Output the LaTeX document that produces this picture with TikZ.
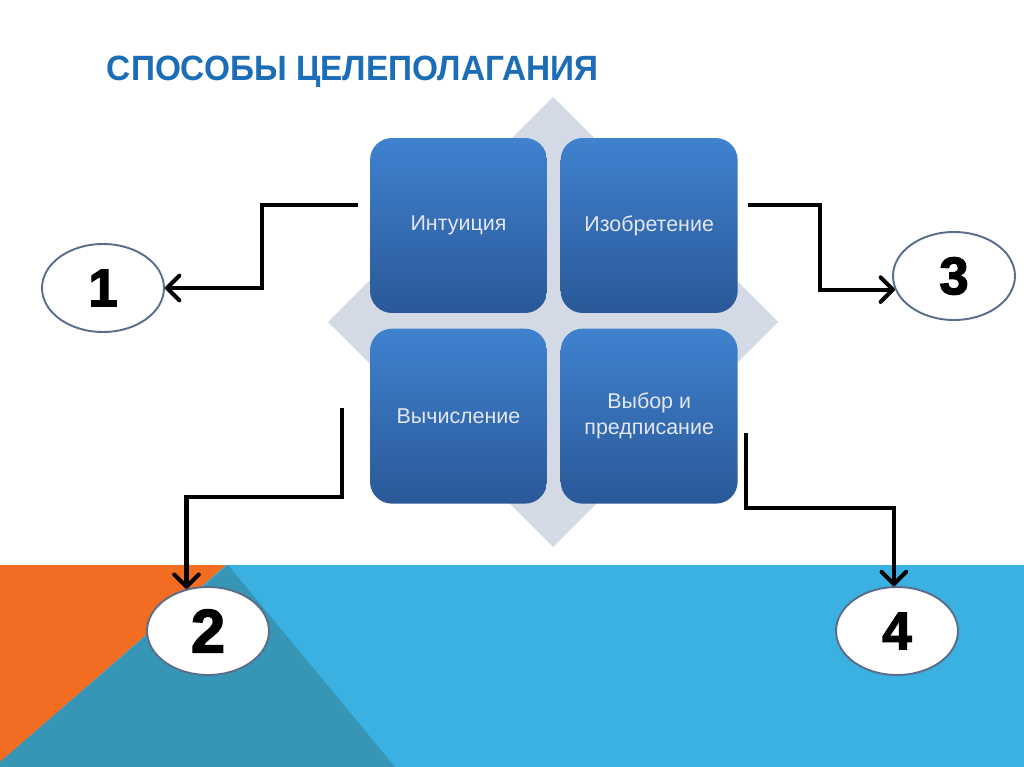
\documentclass[tikz,border=0pt]{standalone}
\usepackage{fontspec}
\setmainfont{Liberation Sans}
\newfontfamily\numfont[BoldFeatures={FakeBold=2.5}]{Liberation Sans}
\usetikzlibrary{positioning,shapes.geometric,arrows.meta}
\definecolor{titleblue}{HTML}{1B6DB5}
\definecolor{boxtop}{HTML}{3F82CE}
\definecolor{boxbot}{HTML}{2A5898}
\definecolor{boxtext}{HTML}{E2E6EE}
\definecolor{diamgray}{HTML}{D3DAE6}
\definecolor{ringgray}{HTML}{5A6E8C}
\definecolor{bandblue}{HTML}{3AB1E0}
\definecolor{bandteal}{HTML}{3795B5}
\definecolor{bandorange}{HTML}{F26D21}
\tikzset{sbox/.style={rounded corners=0.44cm,top color=boxtop,bottom color=boxbot,text=boxtext,
		minimum width=3.54cm,minimum height=3.5cm,inner sep=0pt,align=center,
		font=\fontsize{12.2}{15}\selectfont},
	 num/.style={ellipse,draw=ringgray,line width=1.1pt,fill=white,minimum width=2.44cm,
		minimum height=1.76cm,inner sep=0pt,font=\numfont\bfseries\fontsize{30}{30}\selectfont},
	 conn/.style={line width=2.3pt,-{Straight Barb[length=7pt,width=14pt,round]}},
	 node distance = 0.26cm
	 }

\begin{document}
\begin{tikzpicture}[x=0.02cm,y=-0.02cm] % sposoby celepolaganiya
	\useasboundingbox (0,0) rectangle (1024,767);
	\fill[white] (0,0) rectangle (1024,767);
	\fill[bandblue] (0,565) rectangle (1024,767);
	\fill[bandorange] (0,565) -- (226,565) -- (0,762) -- cycle;
	\fill[bandteal] (228,565) -- (395,767) -- (0,767) -- (0,762) -- cycle;
	\node[anchor=west,text=titleblue,xscale=0.95,font=\bfseries\fontsize{20}{24}\selectfont] (title) at (101,72) {СПОСОБЫ ЦЕЛЕПОЛАГАНИЯ};
	\fill[diamgray] (553,97) -- (778,322) -- (553,547) -- (328,322) -- cycle;
	\node[sbox] (intu) at (458.5,225.5) {Интуиция};
	\node[sbox] (izob) [right=0.26cm of intu] {Изобретение};
	\node[sbox] (vych) [below=0.3cm of intu] {Вычисление};
	\node[sbox] (vybor) [right=0.26cm of vych] {Выбор и\\предписание};
	\node[num] (one) at (103,288) {1};
	\node[num,font=\numfont\bfseries\fontsize{35}{35}\selectfont] (two) at (208,631) {2};
	\node[num] (three) at (954,276) {3};
	\node[num] (four) at (897,631) {4};
	\coordinate (s1) at (358,205);
	\coordinate (s2) at (342,408);
	\coordinate (s3) at (748,205);
	\coordinate (s4) at (746,433);
	\draw[conn] (s1) -- ++(-96,0) |- (one.east);
	\draw[conn] (s2) -- ++(0,89) -| (two.117);
	\draw[conn] (s3) -- ++(72,0) |- (three.193);
	\draw[conn] (s4) -- ++(0,75) -| (four.94);
\end{tikzpicture}
\end{document}
